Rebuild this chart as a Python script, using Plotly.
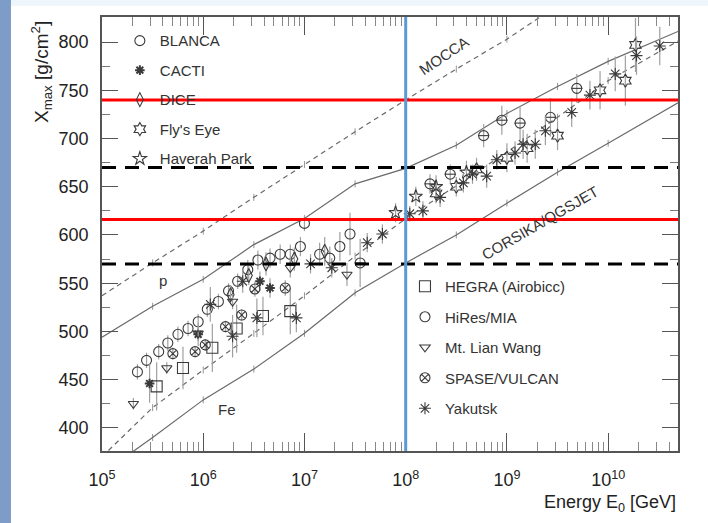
import plotly.graph_objects as go

# ---------------- model curves (log10 E/GeV, Xmax g/cm2) ----------------
qgs_p_logE = [5.0, 5.5, 6.0, 6.5, 7.0, 7.5, 8.0, 8.5, 9.0, 9.5, 10.0, 10.69]
qgs_p_X = [494, 526, 554, 590, 617, 653, 669, 693, 726, 754, 780, 811]
qgs_fe_logE = [5.3, 5.5, 6.0, 6.5, 7.0, 7.5, 8.0, 8.5, 9.0, 9.5, 10.0, 10.69]
qgs_fe_X = [375, 390, 429, 461, 498, 540, 571, 600, 633, 665, 695, 737]
mocca_p_logE = [5.0, 5.5, 6.0, 6.5, 7.0, 7.5, 8.0, 8.5, 9.0, 9.5]
mocca_p_X = [537, 571, 604, 639, 673, 707, 740, 772, 803, 838]
mocca_fe_logE = [5.0, 5.5, 6.0, 6.5, 7.0, 7.5, 8.0, 8.5, 9.0, 9.5, 10.0, 10.69]
mocca_fe_X = [370, 421, 460, 498, 537, 578, 617, 651, 686, 722, 760, 801]

# ---------------- measurements ----------------
blanca_logE = [5.35, 5.44, 5.56, 5.65, 5.75, 5.85, 5.95, 6.04, 6.15, 6.25, 6.34, 6.44,
               6.54, 6.66, 6.76, 6.86, 6.96, 7.00, 7.15, 7.25, 7.35, 7.45]
blanca_X = [458, 470, 479, 488, 497, 503, 510, 523, 531, 542, 552, 564,
            574, 576, 580, 580, 588, 612, 580, 576, 588, 601]
blanca_err = [8, 8, 8, 8, 8, 8, 8, 8, 8, 8, 8, 10, 10, 10, 10, 10, 10, 8, 12, 12, 15, 22]

cacti_logE = [5.47, 5.95, 6.56, 6.66]
cacti_X = [446, 497, 552, 545]
cacti_err = [20, 12, 10, 10]

dice_logE = [6.27, 6.45, 6.62, 6.90, 7.20]
dice_X = [538, 558, 570, 575, 583]
dice_err = [10, 10, 12, 12, 15]

fly_logE = [8.30, 8.50, 8.70, 9.00, 9.20, 9.50, 9.92, 10.17, 10.27]
fly_X = [643, 650, 668, 680, 690, 703, 750, 760, 797]
fly_err = [10, 10, 12, 15, 15, 15, 20, 26, 28]

haverah_logE = [7.90, 8.10, 8.30, 8.60]
haverah_X = [623, 640, 650, 665]
haverah_err = [10, 10, 12, 12]

hegra_logE = [5.54, 5.80, 6.09, 6.33, 6.59, 6.86]
hegra_X = [443, 462, 483, 503, 516, 521]
hegra_err = [25, 22, 25, 25, 20, 24]

hires_logE = [7.55, 8.24, 8.44, 8.77, 8.95, 9.13, 9.43, 9.69]
hires_X = [571, 653, 663, 703, 719, 716, 722, 752]
hires_err = [25, 10, 10, 12, 15, 18, 20, 15]

lianwang_logE = [5.31, 5.64, 5.95, 6.29, 6.86, 7.42]
lianwang_X = [425, 462, 498, 531, 566, 559]
lianwang_err = [6, 6, 8, 8, 10, 12]

spase_logE = [5.70, 5.92, 6.02, 6.22, 6.38, 6.51, 6.81]
spase_X = [477, 479, 486, 505, 517, 544, 545]
spase_err = [6, 6, 6, 6, 6, 8, 8]

yakutsk_logE = [6.07, 6.29, 6.39, 6.53, 6.92, 7.06, 7.27, 7.62, 7.77, 8.04, 8.17, 8.34, 8.57,
                8.66, 8.80, 8.90, 9.08, 9.16, 9.28, 9.38, 9.64, 9.82, 10.07, 10.28, 10.51]
yakutsk_X = [528, 495, 552, 514, 514, 570, 566, 592, 601, 622, 625, 639, 654,
             663, 661, 678, 685, 694, 694, 708, 727, 745, 767, 786, 796]
yakutsk_err = [18, 22, 12, 20, 15, 10, 10, 10, 10, 8, 10, 10, 10,
               10, 12, 10, 12, 15, 15, 15, 15, 15, 18, 20, 20]

# reference lines
red_levels = [740, 616]
black_levels = [670, 570]
blue_energy = 1e8

tick_exps = [5, 6, 7, 8, 9, 10]
tick_labels = ["10<sup>%d</sup>" % e for e in tick_exps]

FONT = "Liberation Sans, Arial, Helvetica, sans-serif"
LINE_COL = "#6a6a6a"
MK_COL = "#3a3a3a"
ERR_COL = "#a0a0a0"


def E(logs):
    return [10 ** v for v in logs]


fig = go.Figure()


def model(logs, xs, dash):
    n = len(logs)
    sizes = [0] + [5] * (n - 2) + [0]
    fig.add_trace(go.Scatter(
        x=E(logs), y=xs, mode="lines+markers", showlegend=False, hoverinfo="skip",
        line=dict(color=LINE_COL, width=1.2, dash=dash),
        marker=dict(symbol="line-ns", size=sizes, line=dict(width=1, color=LINE_COL)),
    ))


model(qgs_p_logE, qgs_p_X, "solid")
model(qgs_fe_logE, qgs_fe_X, "solid")
model(mocca_p_logE, mocca_p_X, "5px,4px")
model(mocca_fe_logE, mocca_fe_X, "5px,4px")


def series(name, logs, xs, errs, symbol, legend, size=9, lw=1.1):
    fig.add_trace(go.Scatter(
        x=E(logs), y=xs, mode="markers", name=name, legend=legend, legendgroup=name,
        marker=dict(symbol=symbol, size=size, color=MK_COL,
                    line=dict(width=lw, color=MK_COL)),
        error_y=dict(type="data", array=errs, visible=True, color=ERR_COL,
                     thickness=1.2, width=0),
    ))


series("BLANCA", blanca_logE, blanca_X, blanca_err, "circle-open", "legend", 10)
series("CACTI", cacti_logE, cacti_X, cacti_err, "asterisk-open", "legend", 8, 2)
series("DICE", dice_logE, dice_X, dice_err, "diamond-tall-open", "legend", 10)
series("Fly's Eye", fly_logE, fly_X, fly_err, "hexagram-open", "legend", 10)
series("Haverah Park", haverah_logE, haverah_X, haverah_err, "star-open", "legend", 10)
series("HEGRA (Airobicc)", hegra_logE, hegra_X, hegra_err, "square-open", "legend2", 11)
series("HiRes/MIA", hires_logE, hires_X, hires_err, "circle-open", "legend2", 10)
fig.add_trace(go.Scatter(
    x=E(hires_logE), y=hires_X, mode="markers", showlegend=False, hoverinfo="skip",
    marker=dict(symbol="line-ew", size=8, line=dict(width=1.1, color=MK_COL)),
))
series("Mt. Lian Wang", lianwang_logE, lianwang_X, lianwang_err, "triangle-down-open", "legend2", 9)
series("SPASE/VULCAN", spase_logE, spase_X, spase_err, "circle-x-open", "legend2", 10)
series("Yakutsk", yakutsk_logE, yakutsk_X, yakutsk_err, "asterisk-open", "legend2", 10)

# reference lines
for lv in red_levels:
    fig.add_shape(type="line", xref="paper", yref="y", x0=0, x1=1, y0=lv, y1=lv,
                  line=dict(color="#ff0000", width=3))
for lv in black_levels:
    fig.add_shape(type="line", xref="paper", yref="y", x0=0, x1=1, y0=lv, y1=lv,
                  line=dict(color="#000000", width=3, dash="14px,9px"))
fig.add_shape(type="line", xref="x", yref="paper", x0=blue_energy, x1=blue_energy, y0=0, y1=1,
              line=dict(color="#5b9bd5", width=3))

# page decorations
fig.add_shape(type="rect", xref="paper", yref="paper", x0=-0.1771, x1=-0.158, y0=-0.17, y1=1.05,
              fillcolor="#7d9dc8", line=dict(width=0), layer="below")
fig.add_shape(type="rect", xref="paper", yref="paper", x0=-0.158, x1=1.06, y0=1.026, y1=1.05,
              fillcolor="#eef5fb", line=dict(width=0), layer="below")

# text labels
fig.add_annotation(x=8.38, y=786, xref="x", yref="y", text="MOCCA", showarrow=False,
                   textangle=-34, font=dict(size=15, color="#333", family=FONT))
fig.add_annotation(x=9.33, y=613, xref="x", yref="y", text="CORSIKA/QGSJET", showarrow=False,
                   textangle=-30, font=dict(size=15, color="#333", family=FONT))
fig.add_annotation(x=5.6, y=553, xref="x", yref="y", text="p", showarrow=False,
                   font=dict(size=15, color="#333", family=FONT))
fig.add_annotation(x=6.23, y=419, xref="x", yref="y", text="Fe", showarrow=False,
                   font=dict(size=15, color="#333", family=FONT))
fig.add_annotation(x=-0.106, y=0.873, xref="paper", yref="paper", xanchor="center",
                   yanchor="middle", text="X<sub>max</sub> [g/cm<sup>2</sup>]",
                   showarrow=False, textangle=-90,
                   font=dict(size=19, color="#222", family=FONT))
fig.add_annotation(x=1.0, y=-0.12, xref="paper", yref="paper", xanchor="right",
                   yanchor="middle", text="Energy E<sub>0</sub> [GeV]", showarrow=False,
                   font=dict(size=18, color="#222", family=FONT))

minor_x = [m * 10 ** e for e in range(5, 11) for m in range(2, 10)]

fig.update_layout(
    width=708, height=523,
    margin=dict(l=102, r=30, t=17, b=72),
    paper_bgcolor="#ffffff", plot_bgcolor="#ffffff",
    font=dict(family=FONT, color="#222"),
    xaxis=dict(type="log", range=[5, 10.69], showgrid=False, zeroline=False,
               showline=True, linecolor="#555", linewidth=1.5, mirror="allticks",
               ticks="inside", ticklen=18, tickwidth=1.3, tickcolor="#555",
               tickmode="array", tickvals=E(tick_exps), ticktext=tick_labels,
               ticklabelstandoff=12,
               tickfont=dict(size=18, color="#222", family=FONT),
               minor=dict(ticks="inside", ticklen=9, tickwidth=1, tickcolor="#888",
                          tickmode="array", tickvals=minor_x, showgrid=False)),
    yaxis=dict(range=[376, 826], showgrid=False, zeroline=False,
               showline=True, linecolor="#555", linewidth=1.5, mirror="allticks",
               ticks="inside", ticklen=16, tickwidth=1.3, tickcolor="#555",
               tickmode="linear", tick0=400, dtick=50, ticklabelstandoff=8,
               tickfont=dict(size=18, color="#222", family=FONT),
               minor=dict(ticks="inside", ticklen=8, tickwidth=1, tickcolor="#777",
                          dtick=25, showgrid=False)),
    legend=dict(x=0.031, y=0.983, xanchor="left", yanchor="top", bgcolor="rgba(0,0,0,0)",
                font=dict(size=15, color="#333", family=FONT), tracegroupgap=7,
                traceorder="grouped"),
    legend2=dict(x=0.526, y=0.417, xanchor="left", yanchor="top", bgcolor="rgba(0,0,0,0)",
                 font=dict(size=15, color="#333", family=FONT), tracegroupgap=8,
                 traceorder="grouped"),
)

fig.write_html("out.html")
